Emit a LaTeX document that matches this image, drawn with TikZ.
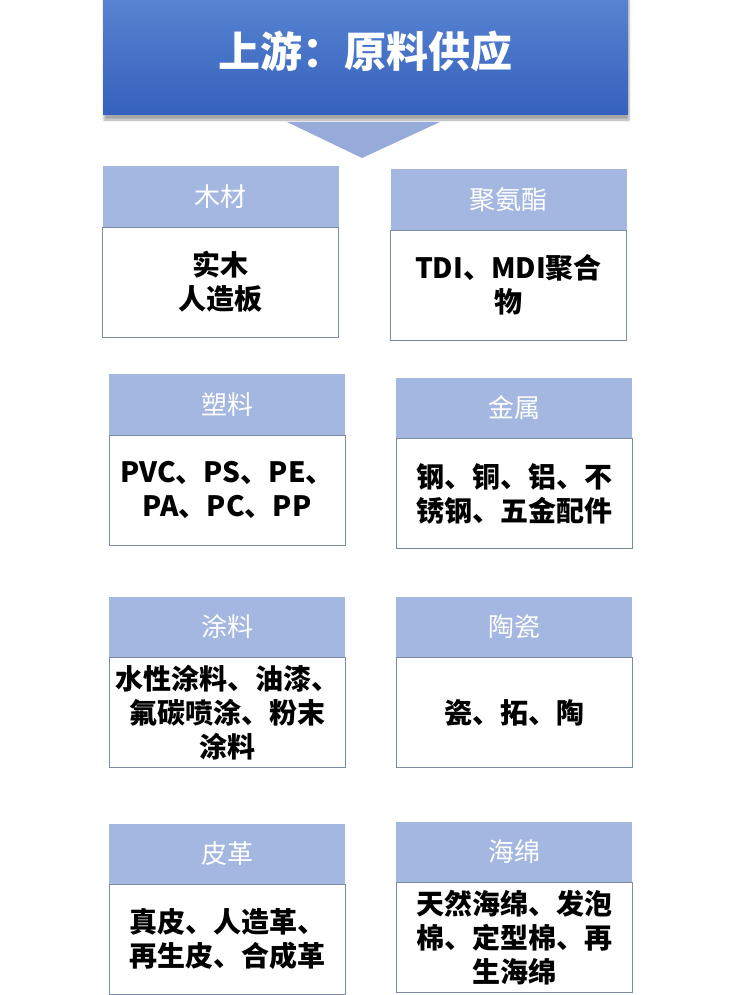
\documentclass[tikz,border=0pt]{standalone}
\usepackage{fontspec}
\setmainfont{Noto Sans CJK SC}
\usetikzlibrary{positioning, shadows.blur}
\definecolor{topblue}{HTML}{5C87D4}
\definecolor{botblue}{HTML}{3461BC}
\definecolor{catblue}{HTML}{A3B7E0}
\definecolor{arrowblue}{HTML}{97ABDB}
\definecolor{boxline}{HTML}{7B8BA6}

\begin{document}
\begin{tikzpicture}[x=1pt, y=-1pt,
    cat/.style={fill=catblue, text=white, minimum width=236pt, minimum height=61pt,
        outer sep=0pt, inner sep=0pt, font=\fontsize{26}{30}\selectfont},
    detail/.style={draw=boxline, line width=0.8pt, fill=white, minimum width=236pt,
        minimum height=110pt, outer sep=0pt, inner sep=2pt, align=center,
        font=\fontsize{28}{34}\selectfont\bfseries}]
    \useasboundingbox (0,0) rectangle (746,995);
    \node (up) at (365.5,51) [minimum width=525pt, minimum height=128pt, top color=topblue,
        bottom color=botblue, text=white, blur shadow={shadow xshift=1pt, shadow yshift=-5pt,
        shadow opacity=35}, font=\fontsize{42}{46}\selectfont\bfseries]{上游：原料供应};
    \fill[arrowblue] (287,122) -- (440,122) -- (362,158) -- cycle;

    \node (mucai) at (220.5,196.5) [cat]{木材};
    \node (mucaiB) [detail, below=0pt of mucai]{实木\\人造板};
    \node (juan) at (508.5,199.5) [cat]{聚氨酯};
    \node (juanB) [detail, below=0pt of juan]{TDI、MDI聚合\\物};

    \node (suliao) at (227,404.5) [cat]{塑料};
    \node (suliaoB) [detail, below=0pt of suliao]{PVC、PS、PE、\\PA、PC、PP};
    \node (jinshu) at (514,408) [cat]{金属};
    \node (jinshuB) [detail, below=0pt of jinshu]{钢、铜、铝、不\\锈钢、五金配件};

    \node (tuliao) at (227,627) [cat]{涂料};
    \node (tuliaoB) [detail, below=0pt of tuliao]{水性涂料、油漆、\\氟碳喷涂、粉末\\涂料};
    \node (taoci) at (514,627) [cat]{陶瓷};
    \node (taociB) [detail, below=0pt of taoci]{瓷、拓、陶};

    \node (pige) at (227,854) [cat]{皮革};
    \node (pigeB) [detail, below=0pt of pige]{真皮、人造革、\\再生皮、合成革};
    \node (haimian) at (514,852) [cat]{海绵};
    \node (haimianB) [detail, below=0pt of haimian]{天然海绵、发泡\\棉、定型棉、再\\生海绵};

\end{tikzpicture}
\end{document}
